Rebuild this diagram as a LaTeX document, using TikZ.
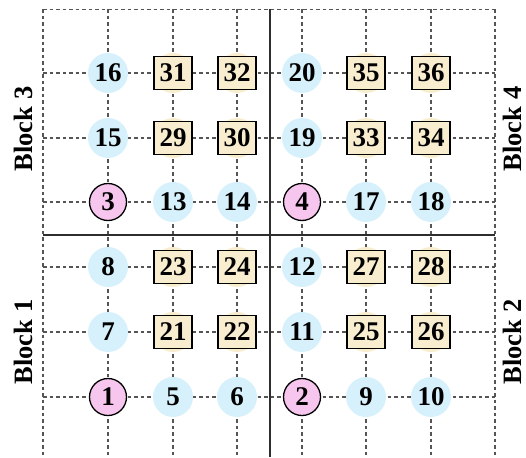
\documentclass[tikz,border=0pt]{standalone}
\usepackage{fontspec}
\setmainfont{Liberation Serif}
\definecolor{cblue}{HTML}{D6F1FB}
\definecolor{cpink}{HTML}{F7C6EE}
\definecolor{cbeige}{HTML}{F8EDCF}
\definecolor{cgrid}{HTML}{555555}
\definecolor{csolid}{HTML}{2E2E2E}
\tikzset{
  gridline/.style={draw=cgrid, line width=1.1pt, dash pattern=on 3.5pt off 3pt},
  divider/.style={draw=csolid, line width=2pt},
  numfont/.style={font=\fontsize{27}{29}\selectfont\bfseries},
  bluenode/.style={circle, fill=cblue, minimum size=40pt, inner sep=0pt, numfont},
  pinknode/.style={circle, fill=cpink, draw=black, line width=1.3pt, minimum size=37pt, inner sep=0pt, numfont},
  beigebg/.style={circle, fill=cbeige, minimum size=40pt, inner sep=0pt},
  boxnode/.style={rectangle, fill=cbeige, draw=black, line width=1.4pt, minimum width=38pt, minimum height=33pt, inner sep=0pt, numfont},
  blocklabel/.style={rotate=90, inner sep=0pt, font=\fontsize{26.5}{29}\selectfont\bfseries}
}
\begin{document}
\begin{tikzpicture}[x=1pt,y=-1pt]
\useasboundingbox (0,0) rectangle (526,457);
% grid
\foreach \x in {43,108,173,237,302,366,431,495} {
  \draw[gridline] (\x,9.5) -- (\x,457);
}
\foreach \y in {9.5,73,138,202,267,332,397} {
  \draw[gridline] (43,\y) -- (495,\y);
}
% dividers
\draw[divider] (269.5,9.5) -- (269.5,457);
\draw[divider] (43,234.5) -- (495,234.5);
% circle nodes (blue)
\node[bluenode] (n16) at (108,73) {16};
\node[bluenode] (n15) at (108,138) {15};
\node[bluenode] (n13) at (173,202) {13};
\node[bluenode] (n14) at (237,202) {14};
\node[bluenode] (n20) at (302,73) {20};
\node[bluenode] (n19) at (302,138) {19};
\node[bluenode] (n17) at (366,202) {17};
\node[bluenode] (n18) at (431,202) {18};
\node[bluenode] (n8) at (108,267) {8};
\node[bluenode] (n7) at (108,332) {7};
\node[bluenode] (n5) at (173,397) {5};
\node[bluenode] (n6) at (237,397) {6};
\node[bluenode] (n12) at (302,267) {12};
\node[bluenode] (n11) at (302,332) {11};
\node[bluenode] (n9) at (366,397) {9};
\node[bluenode] (n10) at (431,397) {10};
% pink nodes
\node[pinknode] (n3) at (108,202) {3};
\node[pinknode] (n4) at (302,202) {4};
\node[pinknode] (n1) at (108,397) {1};
\node[pinknode] (n2) at (302,397) {2};
% boxed nodes
\foreach \nm/\x/\y in {31/173/73, 32/237/73, 29/173/138, 30/237/138,
                       35/366/73, 36/431/73, 33/366/138, 34/431/138,
                       23/173/267, 24/237/267, 21/173/332, 22/237/332,
                       27/366/267, 28/431/267, 25/366/332, 26/431/332} {
  \node[beigebg] (bg\nm) at (\x,\y) {};
  \node[boxnode] (n\nm) at (\x,\y) {\nm};
}
% block labels
\node[blocklabel] (b3) at (23,129) {Block 3};
\node[blocklabel] (b1) at (23,342) {Block 1};
\node[blocklabel] (b4) at (512,129) {Block 4};
\node[blocklabel] (b2) at (512,342) {Block 2};
\end{tikzpicture}
\end{document}
